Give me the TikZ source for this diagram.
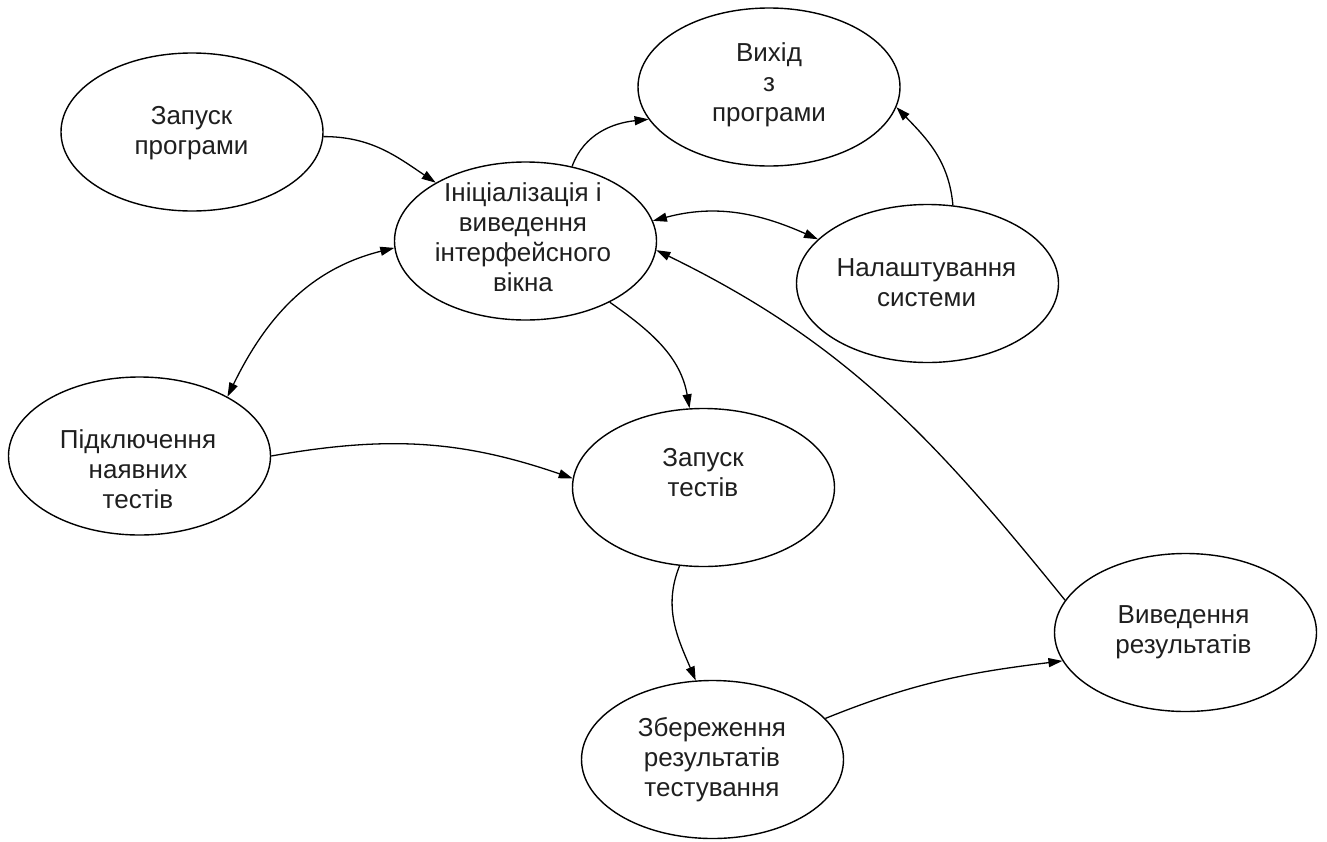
\documentclass[tikz,border=0pt]{standalone}
\usepackage{fontspec}
\setmainfont{Liberation Sans}
\usetikzlibrary{arrows.meta,shapes.geometric}
\begin{document}
\begin{tikzpicture}[x=1pt,y=-1pt,
  state/.style={draw, line width=1.4pt, ellipse, minimum width=262pt, minimum height=158pt, inner sep=0pt},
  lbl/.style={align=center, font=\fontsize{26}{30}\selectfont, inner sep=0pt, text=black!88},
  conn/.style={line width=1.3pt, -{Triangle[length=14pt,width=9pt]}},
  both/.style={line width=1.3pt, {Triangle[length=14pt,width=9pt]}-{Triangle[length=14pt,width=9pt]}}]
\useasboundingbox (0,0) rectangle (1327,841);
% states
\node[state] (zp) at (192,132) {};
\node[state] (vyh) at (769,87) {};
\node[state] (init) at (525.5,241) {};
\node[state] (nal) at (927.5,283.5) {};
\node[state] (pid) at (139.5,456) {};
\node[state] (zt) at (703.5,487.5) {};
\node[state] (zb) at (712.5,759.5) {};
\node[state] (vyv) at (1185.5,632.5) {};
% labels
\node[lbl] (tzp) at (191.5,133) {Запуск\\програми};
\node[lbl] (tvyh) at (769,85) {Вихід\\з\\програми};
\node[lbl] (tinit) at (523,237.5) {Ініціалізація і\\виведення\\інтерфейсного\\вікна};
\node[lbl] (tnal) at (926.5,283) {Налаштування\\системи};
\node[lbl] (tpid) at (138,469) {Підключення\\наявних\\тестів};
\node[lbl] (tzt) at (703,472.5) {Запуск\\тестів};
\node[lbl] (tzb) at (712,760) {Збереження\\результатів\\тестування};
\node[lbl] (tvyv) at (1183.5,632) {Виведення\\результатів};
% connectors
\draw[conn] (zp.-2) to[out=0,in=146] (init.147);
\draw[conn] (init.58) to[out=70,in=186] (vyh.195);
\draw[conn] (nal.72) to[out=95,in=314] (vyh.-9);
\draw[both] (init.9) to[out=15,in=156] (nal.158);
\draw[conn] (vyv.165) to[out=129,in=-26] (init.-4);
\draw[conn] (init.-36) to[out=-35,in=100] (zt.100);
\draw[both] (init.183) to[out=194,in=64] (pid.34);
\draw[conn] (pid.0) to[out=10,in=161] (zt.176);
\draw[conn] (zt.-107) to[out=-112,in=113] (zb.102);
\draw[conn] (zb.20) to[out=22,in=187] (vyv.193);
\end{tikzpicture}
\end{document}
